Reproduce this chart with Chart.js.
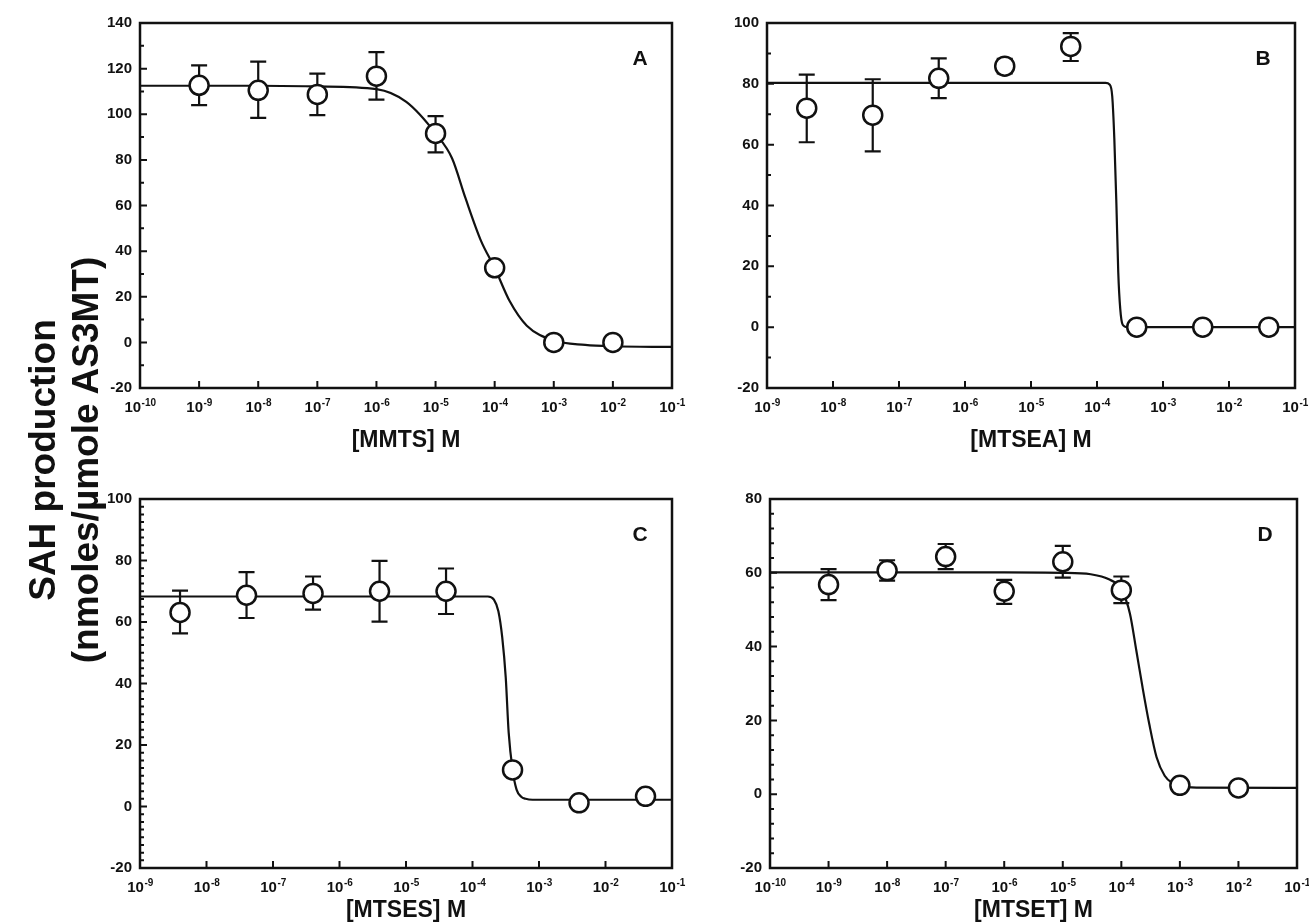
<!DOCTYPE html>
<html>
<head>
<meta charset="utf-8">
<script src="https://cdn.jsdelivr.net/npm/chart.js@4.4.1/dist/chart.umd.min.js"></script>
<style>
  body { margin: 0; background: #fff; overflow: hidden; }
  #page { position: relative; width: 1309px; height: 924px; background: #fff; }
  canvas { position: absolute; }
  #ytitle {
    position: absolute; left: 64px; top: 460px; width: 600px;
    transform: translate(-50%, -50%) rotate(-90deg);
    font: bold 37px "Liberation Sans", Arial, sans-serif;
    line-height: 43px; text-align: center; color: #111;
  }
</style>
</head>
<body>
<div id="page">
  <canvas id="chartA" width="588" height="448" style="left:100px;top:6px"></canvas>
  <canvas id="chartB" width="584" height="448" style="left:727px;top:6px"></canvas>
  <canvas id="chartC" width="588" height="442" style="left:100px;top:482px"></canvas>
  <canvas id="chartD" width="583" height="442" style="left:730px;top:482px"></canvas>
  <div id="ytitle">SAH production<br>(nmoles/µmole AS3MT)</div>
</div>
<script>
// Panel A - MMTS
const aConc = [1e-9, 1e-8, 1e-7, 1e-6, 1e-5, 1e-4, 1e-3, 1e-2];
const aMean = [112.7, 110.5, 108.7, 116.7, 91.6, 32.7, 0, 0];
const aLow  = [104, 98.4, 99.6, 106.4, 83.3, null, null, null];
const aHigh = [121.4, 123.1, 117.8, 127.2, 99.2, null, null, null];
const aFitX = [1e-10, 1e-8, 1e-7, 1e-6, 3.2e-6, 1e-5, 1.9e-5, 3.2e-5, 5.9e-5, 1e-4, 1.8e-4, 3.5e-4, 1e-3, 3.4e-3, 1e-2, 1e-1];
const aFitY = [112.5, 112.5, 112.2, 111, 105.4, 91.6, 80.7, 63.3, 44.4, 32.7, 18, 7.3, 0.8, -1.1, -1.7, -2];

// Panel B - MTSEA
const bConc = [4e-9, 4e-8, 4e-7, 4e-6, 4e-5, 4e-4, 4e-3, 4e-2];
const bMean = [72, 69.7, 81.8, 85.8, 92.3, 0, 0, 0];
const bLow  = [60.8, 57.8, 75.3, 83.4, 87.5, null, null, null];
const bHigh = [83, 81.5, 88.4, 88.2, 96.7, null, null, null];
const bFitX = [1e-9, 1.35e-4, 1.55e-4, 1.7e-4, 1.83e-4, 1.97e-4, 2.1e-4, 2.25e-4, 2.45e-4, 2.9e-4, 1e-1];
const bFitY = [80.3, 80.3, 79.8, 76, 62, 40, 18, 6, 0.8, 0, 0];

// Panel C - MTSES
const cConc = [4e-9, 4e-8, 4e-7, 4e-6, 4e-5, 4e-4, 4e-3, 4e-2];
const cMean = [63.1, 68.7, 69.3, 70, 70, 11.9, 1.2, 3.3];
const cLow  = [56.3, 61.3, 64, 60.1, 62.6, null, null, null];
const cHigh = [70.2, 76.2, 74.8, 79.9, 77.4, null, null, null];
const cFitX = [1e-9, 1.7e-4, 2.1e-4, 2.45e-4, 2.8e-4, 3.16e-4, 3.5e-4, 4e-4, 4.6e-4, 5.4e-4, 6.3e-4, 8e-4, 1e-1];
const cFitY = [68.3, 68.3, 67.3, 63.5, 55, 42, 24, 12, 5.5, 3.2, 2.5, 2.2, 2.2];

// Panel D - MTSET
const dConc = [1e-9, 1e-8, 1e-7, 1e-6, 1e-5, 1e-4, 1e-3, 1e-2];
const dMean = [56.8, 60.6, 64.4, 55, 63, 55.3, 2.4, 1.7];
const dLow  = [52.6, 57.9, 61, 51.6, 58.7, 51.8, null, null];
const dHigh = [61, 63.4, 67.8, 58.1, 67.3, 59, null, null];
const dFitX = [1e-10, 1e-6, 1e-5, 3e-5, 6e-5, 1e-4, 1.4e-4, 1.8e-4, 2.3e-4, 3e-4, 4e-4, 5.5e-4, 7.5e-4, 1e-3, 2e-3, 1e-1];
const dFitY = [60.1, 60.1, 60, 59.6, 58.3, 55.5, 49, 39, 29, 19, 10, 5, 3, 2.2, 1.8, 1.7];

// x tick decades
const ticks10to1 = [1e-10, 1e-9, 1e-8, 1e-7, 1e-6, 1e-5, 1e-4, 1e-3, 1e-2, 1e-1];
const ticks9to1 = [1e-9, 1e-8, 1e-7, 1e-6, 1e-5, 1e-4, 1e-3, 1e-2, 1e-1];

const FAMILY = "'Liberation Sans', Arial, sans-serif";
const tickFont = { family: FAMILY, weight: "bold", size: 15 };

// frame, inward ticks, decade labels, panel letter, error bars
const decorPlugin = {
  id: "decor",
  beforeDatasetsDraw(chart, args, opts) {
    const ctx = chart.ctx;
    const xs = chart.scales.x, ys = chart.scales.y;
    ctx.save();
    ctx.strokeStyle = "#111";
    ctx.lineWidth = 2.2;
    opts.conc.forEach((c, i) => {
      if (opts.low[i] == null) return;
      const x = xs.getPixelForValue(c);
      const y1 = ys.getPixelForValue(opts.low[i]);
      const y2 = ys.getPixelForValue(opts.high[i]);
      ctx.beginPath();
      ctx.moveTo(x, y1); ctx.lineTo(x, y2);
      ctx.moveTo(x - 8, y1); ctx.lineTo(x + 8, y1);
      ctx.moveTo(x - 8, y2); ctx.lineTo(x + 8, y2);
      ctx.stroke();
    });
    ctx.restore();
  },
  afterDraw(chart, args, opts) {
    const ctx = chart.ctx;
    const a = chart.chartArea;
    const xs = chart.scales.x, ys = chart.scales.y;
    ctx.save();
    ctx.strokeStyle = "#111";
    ctx.lineWidth = 2.5;
    ctx.strokeRect(a.left, a.top, a.right - a.left, a.bottom - a.top);
    ctx.lineWidth = 2;
    ctx.beginPath();
    opts.xTicks.forEach(v => {
      const x = xs.getPixelForValue(v);
      ctx.moveTo(x, a.bottom); ctx.lineTo(x, a.bottom - 7);
    });
    for (let v = ys.min; v <= ys.max + 1e-9; v += opts.minor) {
      const y = ys.getPixelForValue(v);
      const major = Math.abs(v / 20 - Math.round(v / 20)) < 1e-6;
      ctx.moveTo(a.left, y); ctx.lineTo(a.left + (major ? 7 : 4), y);
    }
    ctx.stroke();

    // decade labels: 10 with raised exponent
    ctx.fillStyle = "#111";
    ctx.textBaseline = "alphabetic";
    ctx.textAlign = "left";
    opts.xTicks.forEach(v => {
      const x = xs.getPixelForValue(v);
      const exp = String(Math.round(Math.log10(v)));
      ctx.font = "bold 15px " + FAMILY;
      const wb = ctx.measureText("10").width;
      ctx.font = "bold 10px " + FAMILY;
      const we = ctx.measureText(exp).width;
      const x0 = x - (wb + we) / 2;
      ctx.font = "bold 15px " + FAMILY;
      ctx.fillText("10", x0, a.bottom + 24);
      ctx.font = "bold 10px " + FAMILY;
      ctx.fillText(exp, x0 + wb + 0.5, a.bottom + 18);
    });

    ctx.font = "bold 21px " + FAMILY;
    ctx.textAlign = "center";
    ctx.textBaseline = "middle";
    ctx.fillText(opts.letter, a.right - 32, a.top + 36);
    ctx.restore();
  }
};

function makePanel(id, conc, mean, low, high, fitX, fitY, xTicks, yMax, minor, letter, xTitle, xHeight) {
  new Chart(document.getElementById(id), {
    type: "scatter",
    data: {
      datasets: [
        {
          label: "data",
          data: conc.map((c, i) => ({ x: c, y: mean[i] })),
          pointRadius: 9.5,
          pointBorderWidth: 2.5,
          pointBackgroundColor: "#fff",
          pointBorderColor: "#111",
          showLine: false,
          order: 0
        },
        {
          label: "fit",
          data: fitX.map((x, i) => ({ x: x, y: fitY[i] })),
          showLine: true,
          pointRadius: 0,
          borderColor: "#111",
          borderWidth: 2.2,
          cubicInterpolationMode: "monotone",
          order: 1
        }
      ]
    },
    options: {
      responsive: false,
      animation: false,
      devicePixelRatio: 1,
      layout: { padding: { top: 8, right: 16, left: 0, bottom: 0 } },
      plugins: {
        legend: { display: false },
        tooltip: { enabled: false },
        decor: { conc, low, high, minor, letter, xTicks }
      },
      scales: {
        x: {
          type: "logarithmic",
          min: xTicks[0],
          max: xTicks[xTicks.length - 1],
          afterBuildTicks: s => { s.ticks = xTicks.map(v => ({ value: v })); },
          afterFit: s => { s.height = xHeight; },
          grid: { display: false },
          border: { display: false },
          ticks: { display: false },
          title: {
            display: true,
            text: xTitle,
            color: "#111",
            font: { family: FAMILY, weight: "bold", size: 23 },
            padding: { top: 0, bottom: 0 }
          }
        },
        y: {
          min: -20,
          max: yMax,
          afterFit: s => { s.width = 40; },
          grid: { display: false, drawTicks: false },
          border: { display: false },
          ticks: { stepSize: 20, padding: 8, color: "#111", font: tickFont }
        }
      }
    },
    plugins: [decorPlugin]
  });
}

makePanel("chartA", aConc, aMean, aLow, aHigh, aFitX, aFitY, ticks10to1, 140, 10, "A", "[MMTS] M", 66);
makePanel("chartB", bConc, bMean, bLow, bHigh, bFitX, bFitY, ticks9to1, 100, 10, "B", "[MTSEA] M", 66);
makePanel("chartC", cConc, cMean, cLow, cHigh, cFitX, cFitY, ticks9to1, 100, 2.5, "C", "[MTSES] M", 56);
makePanel("chartD", dConc, dMean, dLow, dHigh, dFitX, dFitY, ticks10to1, 80, 4, "D", "[MTSET] M", 56);
</script>
</body>
</html>
